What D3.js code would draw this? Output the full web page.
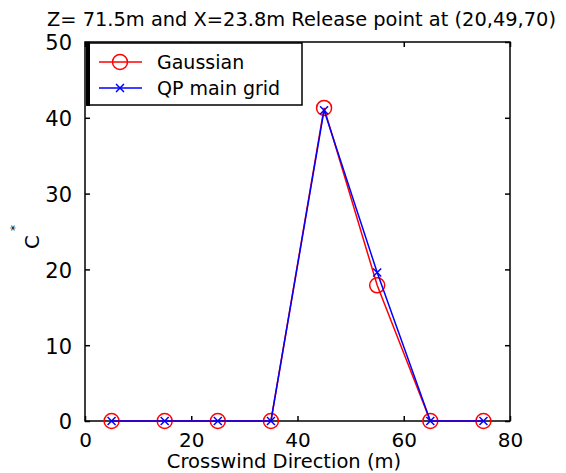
<!DOCTYPE html>
<html>
<head>
<meta charset="utf-8">
<script src="https://cdn.jsdelivr.net/npm/d3@7"></script>
<style>
  body { margin: 0; background: #fff; }
  text { font-family: "DejaVu Sans", sans-serif; fill: #000; }
</style>
</head>
<body>
<div id="frame"></div>
<script>
const width = 566;
const height = 473;

// data
const crosswind = [5, 15, 25, 35, 45, 55, 65, 75];
const gaussian = [0, 0, 0, 0, 41.3, 17.9, 0, 0];
const qpMainGrid = [0, 0, 0, 0, 41.0, 19.6, 0, 0];
const xTicks = [0, 20, 40, 60, 80];
const yTicks = [0, 10, 20, 30, 40, 50];
const seriesNames = ['Gaussian', 'QP main grid'];

const svg = d3.select('#frame')
    .append('svg')
    .attr('width', width)
    .attr('height', height)
    .style('background-color', 'white');

const plotLeft = 85, plotRight = 510, plotTop = 42, plotBottom = 421;

const x = d3.scaleLinear().domain([0, 80]).range([plotLeft, plotRight]);
const y = d3.scaleLinear().domain([0, 50]).range([plotBottom, plotTop]);

// title
svg.append('text')
    .attr('x', 47)
    .attr('y', 26)
    .attr('font-size', 19.4)
    .text('Z= 71.5m and X=23.8m Release point at (20,49,70)');

// box
svg.append('rect')
    .attr('x', plotLeft)
    .attr('y', plotTop)
    .attr('width', plotRight - plotLeft)
    .attr('height', plotBottom - plotTop)
    .attr('fill', 'none')
    .attr('stroke', 'black')
    .attr('stroke-width', 1.5);

// axes with inward ticks
const bottomAxis = svg.append('g')
    .attr('transform', `translate(0,${plotBottom})`)
    .call(d3.axisBottom(x).tickValues(xTicks).tickSizeInner(-5).tickSizeOuter(0).tickPadding(11));
const topAxis = svg.append('g')
    .attr('transform', `translate(0,${plotTop})`)
    .call(d3.axisTop(x).tickValues(xTicks).tickSizeInner(-5).tickSizeOuter(0).tickFormat(''));
const leftAxis = svg.append('g')
    .attr('transform', `translate(${plotLeft},0)`)
    .call(d3.axisLeft(y).tickValues(yTicks).tickSizeInner(-5).tickSizeOuter(0).tickPadding(13));
const rightAxis = svg.append('g')
    .attr('transform', `translate(${plotRight},0)`)
    .call(d3.axisRight(y).tickValues(yTicks).tickSizeInner(-5).tickSizeOuter(0).tickFormat(''));

[bottomAxis, topAxis, leftAxis, rightAxis].forEach(g => {
    g.select('.domain').remove();
    g.selectAll('.tick line').attr('stroke', 'black').attr('stroke-width', 1.5);
    g.selectAll('text')
        .attr('font-family', '"DejaVu Sans", sans-serif')
        .attr('font-size', 21)
        .attr('fill', 'black');
});
bottomAxis.selectAll('text').attr('font-size', 20).attr('dy', '0.75em');
leftAxis.selectAll('text').attr('dy', '0.38em');

// axis labels
svg.append('text')
    .attr('x', 284)
    .attr('y', 468)
    .attr('text-anchor', 'middle')
    .attr('font-size', 19.5)
    .text('Crosswind Direction (m)');

const yLabel = svg.append('text')
    .attr('transform', 'translate(39,249) rotate(-90)')
    .attr('font-size', 20);
yLabel.append('tspan').text('C');
yLabel.append('tspan').attr('dx', 4).attr('dy', -20).attr('font-size', 12).text('*');

// lines
const line = d3.line()
    .x(d => x(d[0]))
    .y(d => y(d[1]));

const gaussPts = crosswind.map((c, i) => [c, gaussian[i]]);
const qpPts = crosswind.map((c, i) => [c, qpMainGrid[i]]);

svg.append('path')
    .datum(gaussPts)
    .attr('d', line)
    .attr('fill', 'none')
    .attr('stroke', 'red')
    .attr('stroke-width', 1.5);

svg.selectAll('.gauss-marker')
    .data(gaussPts)
    .enter()
    .append('circle')
    .attr('class', 'gauss-marker')
    .attr('cx', d => x(d[0]))
    .attr('cy', d => y(d[1]))
    .attr('r', 7.5)
    .attr('fill', 'none')
    .attr('stroke', 'red')
    .attr('stroke-width', 1.5);

svg.append('path')
    .datum(qpPts)
    .attr('d', line)
    .attr('fill', 'none')
    .attr('stroke', 'blue')
    .attr('stroke-width', 1.5);

const cross = 'M-4,-4L4,4M-4,4L4,-4';
svg.selectAll('.qp-marker')
    .data(qpPts)
    .enter()
    .append('path')
    .attr('class', 'qp-marker')
    .attr('transform', d => `translate(${x(d[0])},${y(d[1])})`)
    .attr('d', cross)
    .attr('fill', 'none')
    .attr('stroke', 'blue')
    .attr('stroke-width', 1.5);

// legend
const legend = svg.append('g');
legend.append('rect')
    .attr('x', 88)
    .attr('y', 43)
    .attr('width', 214)
    .attr('height', 62)
    .attr('fill', 'white')
    .attr('stroke', 'black')
    .attr('stroke-width', 1.5);
legend.append('line')
    .attr('x1', 88).attr('x2', 88)
    .attr('y1', 42).attr('y2', 106)
    .attr('stroke', 'black')
    .attr('stroke-width', 4);

const legendRows = [
    { name: seriesNames[0], color: 'red', y: 62, marker: 'circle' },
    { name: seriesNames[1], color: 'blue', y: 88, marker: 'cross' }
];
legendRows.forEach(row => {
    legend.append('line')
        .attr('x1', 99).attr('x2', 142)
        .attr('y1', row.y).attr('y2', row.y)
        .attr('stroke', row.color)
        .attr('stroke-width', 1.5);
    if (row.marker === 'circle') {
        legend.append('circle')
            .attr('cx', 120).attr('cy', row.y).attr('r', 7.5)
            .attr('fill', 'none')
            .attr('stroke', row.color)
            .attr('stroke-width', 1.5);
    } else {
        legend.append('path')
            .attr('transform', `translate(120,${row.y})`)
            .attr('d', cross)
            .attr('fill', 'none')
            .attr('stroke', row.color)
            .attr('stroke-width', 1.5);
    }
    legend.append('text')
        .attr('x', 157)
        .attr('y', row.y + 7)
        .attr('font-size', 19)
        .text(row.name);
});
</script>
</body>
</html>
